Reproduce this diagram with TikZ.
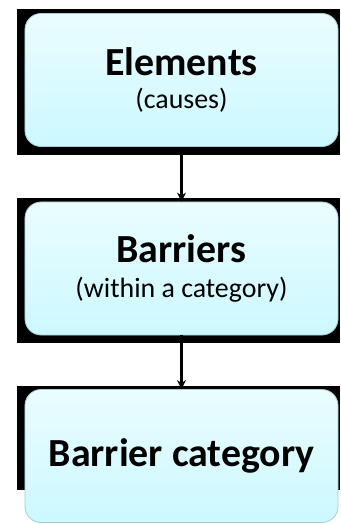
\documentclass[tikz,border=0pt]{standalone}
\usepackage{fontspec}
\setmainfont{Carlito}
\usetikzlibrary{arrows.meta}
\definecolor{boxtop}{RGB}{234,253,255}
\definecolor{boxbot}{RGB}{204,248,255}
\definecolor{boxrim}{RGB}{165,205,210}
\tikzset{
  stage/.style={draw=boxrim, line width=0.8bp, rounded corners=16bp,
    top color=boxtop, bottom color=boxbot, minimum width=313bp,
    minimum height=133bp, inner sep=0pt, align=center},
  link/.style={line width=3.2bp, -{Stealth[length=9bp,width=9bp]}}
}
\newcommand{\headtxt}[1]{{\fontsize{40}{40}\selectfont\bfseries #1}}
\newcommand{\subtxt}[1]{{\fontsize{28}{28}\selectfont #1}}
\begin{document}
\begin{tikzpicture}[x=1bp,y=-1bp]
\useasboundingbox (0,0) rectangle (340,524);
% black backings
\fill[black] (17,9) rectangle (340,155);
\fill[black] (17,198) rectangle (340,343);
\fill[black] (17,386) rectangle (340,490);
% boxes
\node[stage] (elem) at (181.5,80) {\headtxt{Elements}\\[11bp] \subtxt{(causes)}};
\node[stage] (barr) at (181.5,268.5) {\headtxt{Barriers}\\[14bp] \subtxt{(within a category)}};
\node[stage] (cat) at (181.5,456) {\headtxt{Barrier category}};
% arrows
\draw[link] (elem) -- (barr);
\draw[link] (barr) -- (cat);
\end{tikzpicture}
\end{document}
